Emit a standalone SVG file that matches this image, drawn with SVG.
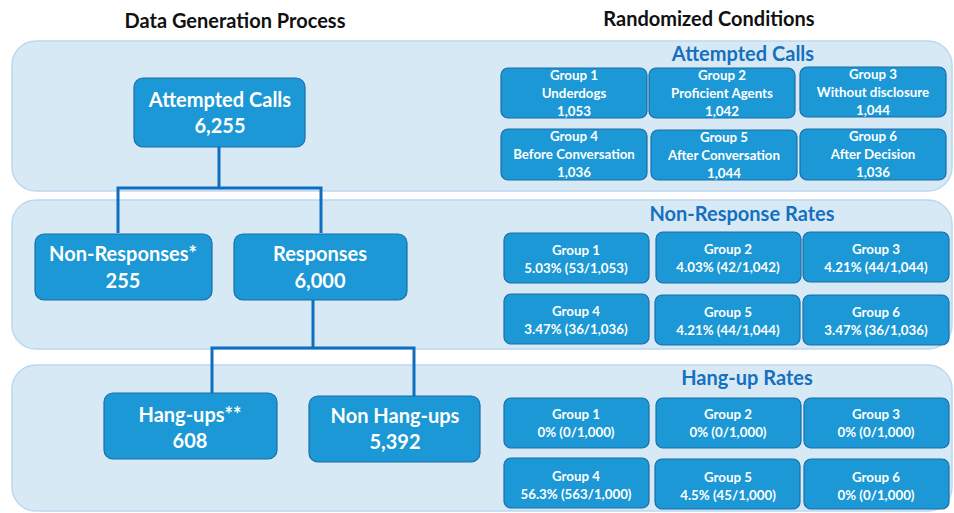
<svg xmlns="http://www.w3.org/2000/svg" width="954" height="513" viewBox="0 0 954 513">
<style>
.panel{fill:#d8e9f6;stroke:#bcd8ef;stroke-width:1.5}
.node{fill:#1b98d5;stroke:#1a6ea8;stroke-width:1.2}
.big{font-family:Lato,"Open Sans",sans-serif;font-weight:bold;font-size:20px;fill:#fff;text-anchor:middle}
.sm{font-family:Lato,"Open Sans",sans-serif;font-weight:bold;font-size:13.3px;fill:#fff;text-anchor:middle}
.hd{font-family:Lato,"Open Sans",sans-serif;font-weight:bold;font-size:20px;fill:#111;text-anchor:middle}
.sec{font-family:Lato,"Open Sans",sans-serif;font-weight:bold;font-size:20px;fill:#1570bf;text-anchor:middle}
.conn{fill:none;stroke:#0e6fc0;stroke-width:3}
</style>
<rect width="954" height="513" fill="#fff"/>
<text class="hd" x="235" y="28">Data Generation Process</text>
<text class="hd" x="709" y="26">Randomized Conditions</text>
<rect class="panel" x="12" y="41" width="940" height="150" rx="24"/>
<rect class="panel" x="12" y="200" width="940" height="149" rx="24"/>
<rect class="panel" x="12" y="365" width="940" height="146" rx="24"/>
<g id="connectors">
<path class="conn" d="M219 147V188M118 233V188H321V233"/>
<path class="conn" d="M313 300V348M212 393V348H414V396"/>
</g>
<g id="attempted"><rect class="node" x="134" y="78" width="171" height="69" rx="9"/><text class="big" x="220" y="107">Attempted Calls</text><text class="big" x="220" y="133">6,255</text></g>
<g id="nonresp"><rect class="node" x="35" y="234" width="177" height="66" rx="9"/><text class="big" x="123" y="261">Non-Responses*</text><text class="big" x="123" y="288">255</text></g>
<g id="resp"><rect class="node" x="234" y="234" width="173" height="66" rx="9"/><text class="big" x="320" y="261">Responses</text><text class="big" x="320" y="288">6,000</text></g>
<g id="hangups"><rect class="node" x="104" y="393" width="173" height="66" rx="9"/><text class="big" x="190" y="422">Hang-ups**</text><text class="big" x="190" y="448">608</text></g>
<g id="nonhangups"><rect class="node" x="309" y="396" width="171" height="66" rx="9"/><text class="big" x="395" y="423">Non Hang-ups</text><text class="big" x="395" y="449">5,392</text></g>
<text class="sec" x="743" y="61">Attempted Calls</text>
<g id="ac1"><rect class="node" x="501" y="68" width="146" height="50" rx="7"/><text class="sm" x="574" y="80">Group 1</text><text class="sm" x="574" y="98">Underdogs</text><text class="sm" x="574" y="116">1,053</text></g>
<g id="ac2"><rect class="node" x="649" y="68" width="146" height="50" rx="7"/><text class="sm" x="722" y="80">Group 2</text><text class="sm" x="722" y="98">Proficient Agents</text><text class="sm" x="722" y="116">1,042</text></g>
<g id="ac3"><rect class="node" x="800" y="67" width="146" height="50" rx="7"/><text class="sm" x="873" y="79">Group 3</text><text class="sm" x="873" y="97">Without disclosure</text><text class="sm" x="873" y="115">1,044</text></g>
<g id="ac4"><rect class="node" x="501" y="129" width="146" height="51" rx="7"/><text class="sm" x="574" y="141">Group 4</text><text class="sm" x="574" y="159">Before Conversation</text><text class="sm" x="574" y="177">1,036</text></g>
<g id="ac5"><rect class="node" x="651" y="130" width="146" height="50" rx="7"/><text class="sm" x="724" y="142">Group 5</text><text class="sm" x="724" y="160">After Conversation</text><text class="sm" x="724" y="178">1,044</text></g>
<g id="ac6"><rect class="node" x="800" y="129" width="146" height="51" rx="7"/><text class="sm" x="873" y="141">Group 6</text><text class="sm" x="873" y="159">After Decision</text><text class="sm" x="873" y="177">1,036</text></g>
<text class="sec" x="742" y="221">Non-Response Rates</text>
<g id="nr1"><rect class="node" x="504" y="233" width="145" height="50" rx="7"/><text class="sm" x="576" y="255">Group 1</text><text class="sm" x="576" y="273">5.03% (53/1,053)</text></g>
<g id="nr2"><rect class="node" x="656" y="232" width="145" height="51" rx="7"/><text class="sm" x="728" y="254">Group 2</text><text class="sm" x="728" y="272">4.03% (42/1,042)</text></g>
<g id="nr3"><rect class="node" x="803" y="232" width="146" height="50" rx="7"/><text class="sm" x="876" y="254">Group 3</text><text class="sm" x="876" y="272">4.21% (44/1,044)</text></g>
<g id="nr4"><rect class="node" x="504" y="294" width="145" height="50" rx="7"/><text class="sm" x="576" y="316">Group 4</text><text class="sm" x="576" y="334">3.47% (36/1,036)</text></g>
<g id="nr5"><rect class="node" x="655" y="295" width="145" height="50" rx="7"/><text class="sm" x="728" y="317">Group 5</text><text class="sm" x="728" y="335">4.21% (44/1,044)</text></g>
<g id="nr6"><rect class="node" x="803" y="295" width="146" height="50" rx="7"/><text class="sm" x="876" y="317">Group 6</text><text class="sm" x="876" y="335">3.47% (36/1,036)</text></g>
<text class="sec" x="747" y="385">Hang-up Rates</text>
<g id="hr1"><rect class="node" x="504" y="398" width="145" height="50" rx="7"/><text class="sm" x="576" y="419">Group 1</text><text class="sm" x="576" y="437">0% (0/1,000)</text></g>
<g id="hr2"><rect class="node" x="656" y="398" width="145" height="50" rx="7"/><text class="sm" x="728" y="419">Group 2</text><text class="sm" x="728" y="437">0% (0/1,000)</text></g>
<g id="hr3"><rect class="node" x="804" y="398" width="145" height="50" rx="7"/><text class="sm" x="876" y="419">Group 3</text><text class="sm" x="876" y="437">0% (0/1,000)</text></g>
<g id="hr4"><rect class="node" x="504" y="458" width="145" height="50" rx="7"/><text class="sm" x="576" y="481">Group 4</text><text class="sm" x="576" y="499">56.3% (563/1,000)</text></g>
<g id="hr5"><rect class="node" x="655" y="459" width="145" height="50" rx="7"/><text class="sm" x="728" y="482">Group 5</text><text class="sm" x="728" y="500">4.5% (45/1,000)</text></g>
<g id="hr6"><rect class="node" x="804" y="459" width="145" height="50" rx="7"/><text class="sm" x="876" y="482">Group 6</text><text class="sm" x="876" y="500">0% (0/1,000)</text></g>
</svg>
